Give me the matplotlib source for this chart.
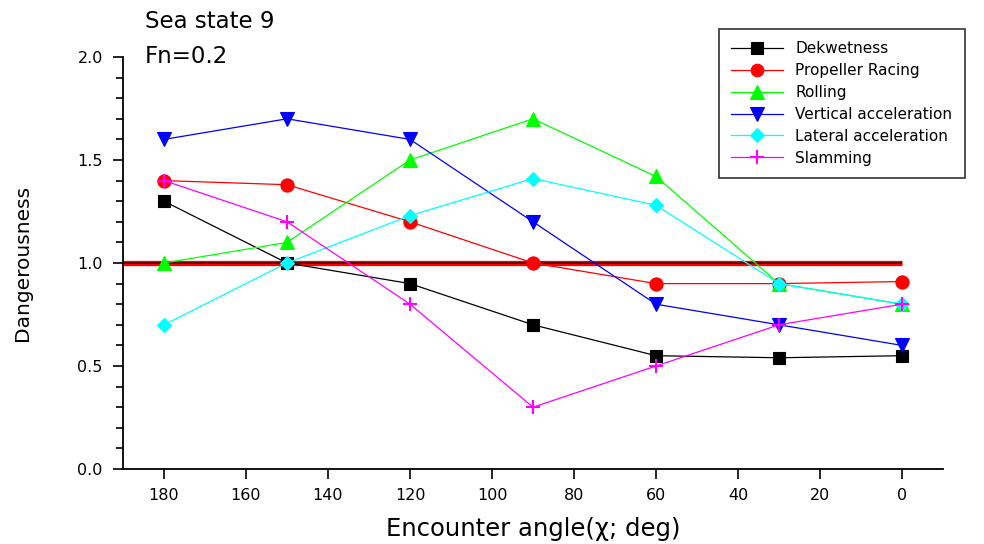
import matplotlib
matplotlib.use("Agg")
import matplotlib.pyplot as plt
from matplotlib.ticker import MultipleLocator, FormatStrFormatter

plt.rcParams['font.family'] = ['DejaVu Sans']

# encounter angle, deg
angles = [180, 150, 120, 90, 60, 30, 0]

dekwetness = [1.30, 1.00, 0.90, 0.70, 0.55, 0.54, 0.55]
propeller = [1.40, 1.38, 1.20, 1.00, 0.90, 0.90, 0.91]
rolling = [1.00, 1.10, 1.50, 1.70, 1.42, 0.90, 0.80]
vertical = [1.60, 1.70, 1.60, 1.20, 0.80, 0.70, 0.60]
lateral = [0.70, 1.00, 1.23, 1.41, 1.28, 0.90, 0.80]
slamming = [1.40, 1.20, 0.80, 0.30, 0.50, 0.70, 0.80]

threshold = 1.0

series = [
    ('Dekwetness', dekwetness, 'black', 's', 8.5),
    ('Propeller Racing', propeller, 'red', 'o', 9.5),
    ('Rolling', rolling, '#00ff00', '^', 10.5),
    ('Vertical acceleration', vertical, 'blue', 'v', 10.5),
    ('Lateral acceleration', lateral, 'cyan', 'D', 7.5),
    ('Slamming', slamming, 'magenta', '+', 10),
]

fig = plt.figure(figsize=(9.84, 5.44), dpi=100)
ax = fig.add_axes([123/984, 1-469/544, (943-123)/984, (469-57)/544])

ax.set_xlim(190, -10)
ax.set_ylim(0, 2.0)

# threshold line from the axis to 0 deg
x0 = ax.get_xlim()[0]
ax.plot([x0, angles[-1]], [threshold, threshold], color='red', lw=3.8, zorder=2, solid_capstyle='butt')
ax.plot([x0, angles[-1]], [threshold, threshold], color='#700000', lw=1.4, zorder=2.1, solid_capstyle='butt')

for name, vals, c, m, ms in series:
    ax.plot(angles, vals, color=c, marker=m, markersize=ms, lw=0.9,
            markeredgewidth=1.5 if m == '+' else 0.8, markeredgecolor=c,
            label=name, zorder=3, clip_on=False)

for s in ['top', 'right']:
    ax.spines[s].set_visible(False)
for s in ['left', 'bottom']:
    ax.spines[s].set_linewidth(1.3)

ax.xaxis.set_major_locator(MultipleLocator(20))
ax.yaxis.set_major_locator(MultipleLocator(0.5))
ax.yaxis.set_minor_locator(MultipleLocator(0.1))
ax.yaxis.set_major_formatter(FormatStrFormatter('%.1f'))
ax.tick_params(axis='both', which='major', direction='out', length=7.5, width=1.2, labelsize=11.5)
ax.tick_params(axis='x', pad=6)
ax.tick_params(axis='y', pad=7)
ax.tick_params(axis='y', which='minor', direction='out', length=5, width=1.2)

ax.set_xlabel('Encounter angle(χ; deg)', fontsize=17.5, labelpad=10)
ax.set_ylabel('Dangerousness', fontsize=14.5, labelpad=33)

fig.text(145/984, 1-28/544, 'Sea state 9', fontsize=16.5, va='baseline', ha='left')
fig.text(145/984, 1-63/544, 'Fn=0.2', fontsize=16.5, va='baseline', ha='left')

leg = ax.legend(loc='upper left', bbox_to_anchor=(719/984, 1-29/544),
                bbox_transform=fig.transFigure, fontsize=11, frameon=True,
                fancybox=False, edgecolor='black', handlelength=3.4,
                handletextpad=0.8, labelspacing=0.45, borderpad=0.8,
                borderaxespad=0)
leg.get_frame().set_linewidth(1.2)
for h in leg.legend_handles:
    h.set_markersize(h.get_markersize() * 0.95)

fig.savefig('out.png', dpi=100)
